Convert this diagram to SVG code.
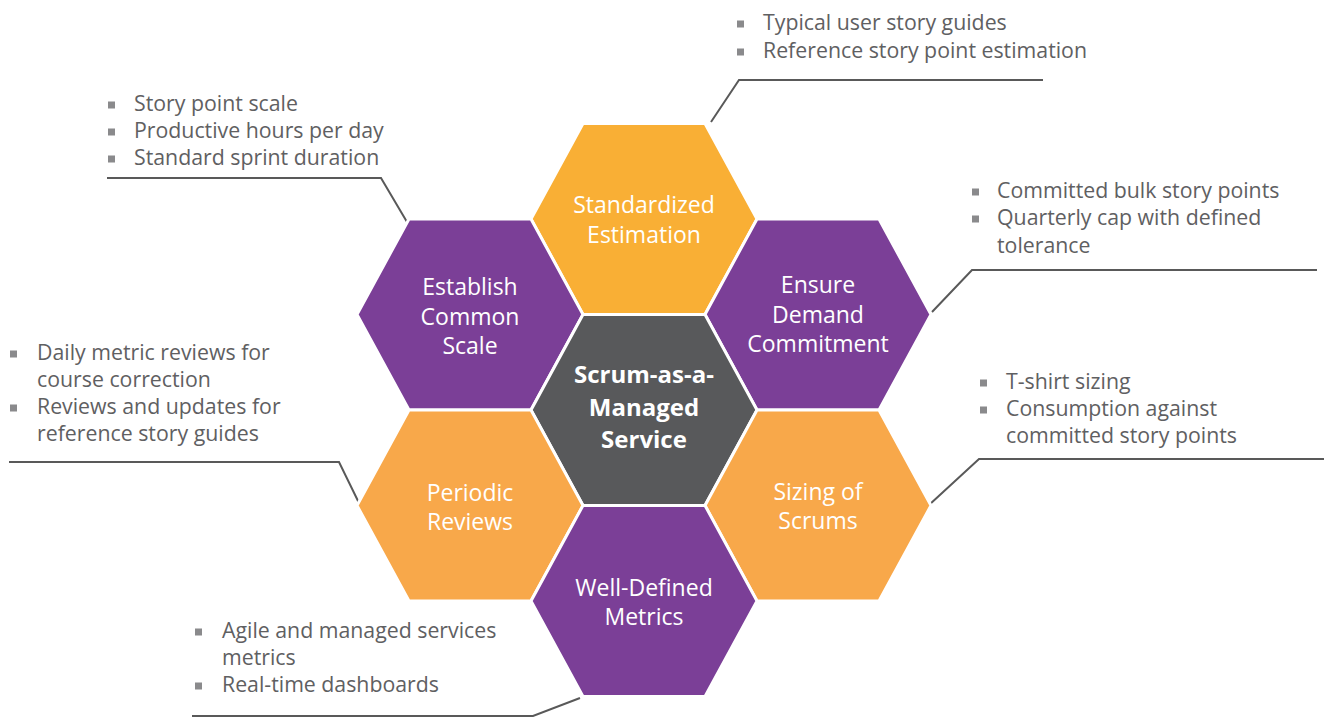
<svg xmlns="http://www.w3.org/2000/svg" xmlns:xlink="http://www.w3.org/1999/xlink" width="1327" height="718" viewBox="0 0 1327 718">
  <style>
    .hex { stroke: #ffffff; stroke-width: 3; stroke-linejoin: miter; }
    .orange-a { fill: #F9AF35; }
    .orange-b { fill: #F8A84A; }
    .purple { fill: #7B3F97; }
    .grey { fill: #58595B; }
    .label { font-family: "Open Sans", "Noto Sans", sans-serif; font-size: 23px; fill: #ffffff; text-anchor: middle; }
    .core { font-family: "Open Sans", "Noto Sans", sans-serif; font-size: 24px; font-weight: bold; fill: #ffffff; text-anchor: middle; }
    .note { font-family: "Open Sans", "Noto Sans", sans-serif; font-size: 21.3px; fill: #5F6062; }
    .dot { fill: #8A8A8C; }
    .leader { fill: none; stroke: #595959; stroke-width: 2; }
  </style>
  <defs>
    <!-- tile hexagon, centred on the origin -->
    <path id="hex" d="M -113 0 L -61 -95.5 L 61 -95.5 L 113 0 L 61 95.5 L -61 95.5 Z"/>
  </defs>

  <!-- leader lines from each cell to its notes -->
  <g id="connectors">
    <polyline class="leader" points="711,122 739,80 1043,80"/>
    <polyline class="leader" points="107,178 381,178 407,222"/>
    <polyline class="leader" points="932,312 972,270 1317,270"/>
    <polyline class="leader" points="9,462 339,462 360,505"/>
    <polyline class="leader" points="929,505 979,459 1324,459"/>
    <polyline class="leader" points="192,716 533,716 580,698"/>
  </g>

  <g id="standardized-estimation">
    <use xlink:href="#hex" href="#hex" x="644" y="219" class="hex orange-a"/>
    <text class="label" x="644" y="213">Standardized</text>
    <text class="label" x="644" y="243">Estimation</text>
  </g>

  <g id="establish-common-scale">
    <use xlink:href="#hex" href="#hex" x="470" y="314.5" class="hex purple"/>
    <text class="label" x="470" y="295">Establish</text>
    <text class="label" x="470" y="325">Common</text>
    <text class="label" x="470" y="354">Scale</text>
  </g>

  <g id="ensure-demand-commitment">
    <use xlink:href="#hex" href="#hex" x="818" y="314.5" class="hex purple"/>
    <text class="label" x="818" y="293">Ensure</text>
    <text class="label" x="818" y="323">Demand</text>
    <text class="label" x="818" y="352">Commitment</text>
  </g>

  <g id="scrum-managed-service">
    <use xlink:href="#hex" href="#hex" x="644" y="410" class="hex grey"/>
    <text class="core" x="644" y="383">Scrum-as-a-</text>
    <text class="core" x="644" y="415.5">Managed</text>
    <text class="core" x="644" y="448">Service</text>
  </g>

  <g id="periodic-reviews">
    <use xlink:href="#hex" href="#hex" x="470" y="505.5" class="hex orange-b"/>
    <text class="label" x="470" y="501">Periodic</text>
    <text class="label" x="470" y="530">Reviews</text>
  </g>

  <g id="sizing-of-scrums">
    <use xlink:href="#hex" href="#hex" x="818" y="505.5" class="hex orange-b"/>
    <text class="label" x="818" y="500">Sizing of</text>
    <text class="label" x="818" y="529">Scrums</text>
  </g>

  <g id="well-defined-metrics">
    <use xlink:href="#hex" href="#hex" x="644" y="601" class="hex purple"/>
    <text class="label" x="644" y="596">Well-Defined</text>
    <text class="label" x="644" y="625">Metrics</text>
  </g>

  <!-- note lists -->
  <g id="notes-estimation">
    <rect class="dot" x="737" y="20.5" width="7" height="7"/>
    <text class="note" x="763" y="30">Typical user story guides</text>
    <rect class="dot" x="737" y="48.5" width="7" height="7"/>
    <text class="note" x="763" y="58">Reference story point estimation</text>
  </g>

  <g id="notes-scale">
    <rect class="dot" x="108" y="101.5" width="7" height="7"/>
    <text class="note" x="134" y="111">Story point scale</text>
    <rect class="dot" x="108" y="128.5" width="7" height="7"/>
    <text class="note" x="134" y="138">Productive hours per day</text>
    <rect class="dot" x="108" y="155.5" width="7" height="7"/>
    <text class="note" x="134" y="165">Standard sprint duration</text>
  </g>

  <g id="notes-demand">
    <rect class="dot" x="972" y="188.5" width="7" height="7"/>
    <text class="note" x="997" y="198">Committed bulk story points</text>
    <rect class="dot" x="972" y="215.5" width="7" height="7"/>
    <text class="note" x="997" y="225">Quarterly cap with defined</text>
    <text class="note" x="997" y="253">tolerance</text>
  </g>

  <g id="notes-reviews">
    <rect class="dot" x="10" y="350.5" width="7" height="7"/>
    <text class="note" x="37" y="360">Daily metric reviews for</text>
    <text class="note" x="37" y="387">course correction</text>
    <rect class="dot" x="10" y="404.5" width="7" height="7"/>
    <text class="note" x="37" y="414">Reviews and updates for</text>
    <text class="note" x="37" y="441">reference story guides</text>
  </g>

  <g id="notes-sizing">
    <rect class="dot" x="980" y="379.5" width="7" height="7"/>
    <text class="note" x="1006" y="389">T-shirt sizing</text>
    <rect class="dot" x="980" y="406.5" width="7" height="7"/>
    <text class="note" x="1006" y="416">Consumption against</text>
    <text class="note" x="1006" y="443">committed story points</text>
  </g>

  <g id="notes-metrics">
    <rect class="dot" x="195" y="628.5" width="7" height="7"/>
    <text class="note" x="222" y="638">Agile and managed services</text>
    <text class="note" x="222" y="665">metrics</text>
    <rect class="dot" x="195" y="682.5" width="7" height="7"/>
    <text class="note" x="222" y="692">Real-time dashboards</text>
  </g>
</svg>
